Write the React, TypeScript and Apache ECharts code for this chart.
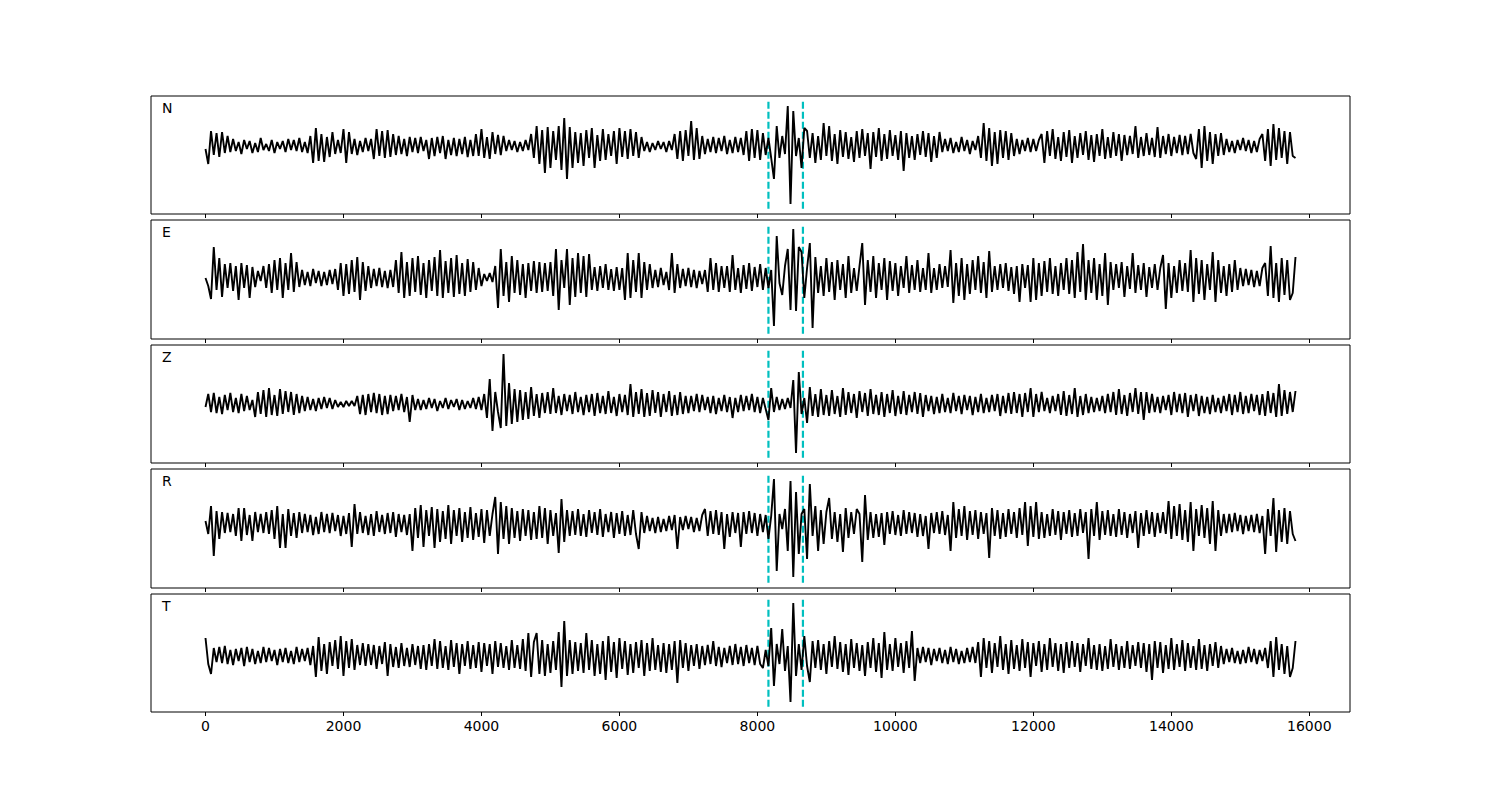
import { useEffect, useRef } from "react";
import * as echarts from "echarts";

const X_FIRST = 0;
const X_LAST = 15800;
const X_MIN = -790;
const X_MAX = 16590;
const X_TICKS = [0, 2000, 4000, 6000, 8000, 10000, 12000, 14000, 16000];
const PICKS = [8160, 8660];
const COMPONENTS = ["N", "E", "Z", "R", "T"];

const N_TRACE = [
  -3, -18, 15, -9, 13, -11, 14, -7, 10,
  -6, 7, -5, 4, -8, 6, -3, 5, -7, 3, -6, 8, -4, 2, -5, 6, -7, 4, -3, 5, -6, 7, -4, 6, -5, 8, -6, 4, -7,
  10, -17, 18, -15, 12, -16, 9, -11, 14, -8,
  6, -7,
  17, -17, 14,
  -8, 7, -9, 5, -6, 8, -5, 7,
  -13, 17, -10, 15, -12, 16, -11, 12, -9,
  10, -8, 7, -10, 9, -6, 8, -7, 9, -5, 6,
  -13, 8, -10, 9, -7, 10, -13, 6, -9, 8, -10, 7, -8, 9, -11, 6,
  -10, 12, -10, 17, -12, 9, -13, 14, -8, 11, -9, 10,
  -5, 6, -4, 5, -6, 4, -5, 6, -4,
  12, -12, 20, -18, 16, -27, 19, -22,
  15, -14, 20, -24, 28, -33, 19, -22, 14,
  -17, 13, -20, 16, -12, 18, -22, 11, -15, 17, -14, 12, -10, 15, -18,
  18, -11, 15, -13, 17, -10, 14, -12, 9,
  -5, 4, -6, 3, -4, 5, -3, 4, -6, 5, -4,
  12, -13, 15, -15, 16, -10, 25, -14, 18, -13,
  10, -8, 7, -6, 9, -7, 8, -5, 10, -8, 6, -7, 9, -6, 8, -9,
  15, -15, 17, -12, 16, -14, 13, -9,
  8, -12, -33, 20, -12, 10, -8, 40, -58, 35, -10, 8, -22, 18,
  15, -12, 13, -17, 10, -14, 23, -10, 20, -15, 12, -18, 16, -11, 14, -13, 9, -16, 15, -12, 17, -10, 13, -23, 14,
  -11, 18, -15, 12, -13, 16, -10, 11, -14, 15, -25, 13, -12, 10, -14, 12, -9, 15, -11, 13, -16, 10, -12, 14,
  -6, 7, -5, 8, -7, 4, -6, 9, -5, 6, -8, 5, -4,
  10, -12, 23, -15, 18, -20, 14, -18, 16, -12, 15, -14, 13, -10,
  7, -8, 6, -5, 8, -6, 7, -5, 6,
  12, -17, 15, -10, 17, -13, 9, -15, 14, -11, 16, -17, 10, -12, 13, -9, 15, -14, 11, -16, 12, -10, 17, -13, 9, -12, 14, -10, 12, -15, 11, -9,
  10, -8, 20, -12, 9, -10, 13, -9, 8, -11, 19, -12, 10, -8, 12, -10, 9, -7, 11, -9, 10, -8, 12, -7,
  -13, 17, -22, 20, -15, 14, -18, 12, -10, 13, -9,
  7, -6, 5, -7, 6, -4, 8, -5, 6, -7, 5, -6, 7,
  12, -15, 17, -20, 22, -14, 18, -12, 15, -18, 14, -10, -12,
];

const E_TRACE = [
  0, -8, -21, 31, -12, 20, -19, 14, -10,
  15, -13, 12, -22, 15, -10, 13, -20, 11, -9, 7,
  -3, 12, -10, 14, -15, 18, -12, 20, -20, 15, -12, 25, -14, 16, -9,
  8, -7, 6, -8, 9, -5, 7, -8, 6, -7, 8, -6, 9,
  -12, 15, -18, 14, -16, 18, -14, 21, -22, 16, -13, 12,
  -10, 9, -8, 10, -9, 7, -10, 8, -9,
  18, -15, 26, -20, 16, -18, 20, -14, 22, -17, 15, -20, 18, -13, 21, -18, 28, -20, 17, -15,
  20, -19, 23, -16, 15, -18, 19, -14, 16, -12, 10, -8,
  4, -3, 5, -4,
  12, -30, 29, -18, 16, -24, 22, -15, 18, -17, 14, -20, 15, -13, 17, -15, 16,
  -14, 15, -13, 16, -18, 29, -32, 18, -10, 29, -27, 20,
  -19, 25, -15, 22, -19, 24,
  -12, 11, -13, 12, -10, 14, -12, 9, -13, 11, -12, 10,
  -22, 25, -20, 18, -14, 25, -20, 16, -12, 14, -10,
  8, -9, 10, -7, 6,
  -12, 25, -15, 14,
  -10, 9, -8, 10, -9, 8, -10, 7, -6, 8,
  -14, 20, -12, 15, -14, 12, -10,
  12, -14, 23, -12, 10, -15, 13, -11, 15, -13, 11, -9, 14, -12, 10,
  -10, 8, -48, 42, -5, -17, 12, 29, -32, 49, -33, 31, 26, -20, 10, 35, -50,
  21, -15, 12, -18, 20, -14, 16, -22, 18, -12, 14, -20, 22, -15, 10, -13, 12,
  35, -27,
  18, -14, 22, -20, 15, -12, 20, -22, 17, -13, 15, -18, 12, -10, 22, -15, 13, -12, 18, -14, 10, -12, 25,
  -15, 10, -12, 14, -10, 12, -9,
  28, -25, 15, -18, 20, -22, 14, -16, 18, -12, 22, -15, 16, -20, 27, -14, 12,
  -12, 14, -10, 15, -13, 11, -16, 12, -24, 14, -10, 13,
  -24, 20, -22, 15, -18, 17, -14, 20, -16, 12, -18, 15, -12, 20,
  -16, 18, -20, 26, -14, 34, -22, 18, -15, 20, -22, 14, -18, 25, -27, 16,
  -12, 14, -10, 16, -19, 12, -11, 25, -15, 13, -12, 15, -19, 11, -10, 14, -12, 10,
  23, -31, 15, -20, 12, -15, 18, -13,
  15, -14, 28, -24, 20, -16, 18, -22, 14, -12, 26, -24, 18, -15, 12, -18, 14,
  -14, 18, -12, 10, -8, 9, -7, 8, -9, 7, -8, 10,
  15, -18, 32, -20, 15, -24, 20, -17, 18, -22, -15, 21,
];

const Z_TRACE = [
  -3, 10, -8, 11, -9, 7, -10, 9, -6, 11, -8, 6, -9, 10, -7, 8, -6,
  4, -13, 12, -10, 14, -13, 16, -11, 9, -12, 15, -10, 13, -8, 12, -11, 10, -9, 8, -7,
  7, -6, 5, -7, 6, -5, 7, -4, 6, -5, 4,
  -3, 2, -3, 3, -2, 3, -2,
  8, -10, 9, -11, 10, -8, 11, -9, 10, -11, 8, -10, 9, -7, 8,
  -6, 10, -8, 7, -18, 9, -6,
  5, -6, 4, -5, 6, -4, 5, -7, 3, -4, 6, -5, 4, -3, 5, -6, 4, -5, 3, -4, 6, -5, 7, -6,
  10, -14, 25, -27, 12, -8, -24, 50,
  -22, 21, -20, 15, -18, 14, -16, 12, -15, 17, -12, 10, -14, 11, -9, 12,
  -10, 16, -9, 8, -11, 10, -7, 9, -10, 12, -8, 7, -11, 9, -8, 10, -12, 11, -9, 8, -10, 13, -9, 7, -12, 10, -8, 9, -11,
  20, -13, 12, -10, 15, -13, 11, -12, 14, -9, 12, -13, 10, -8, 13, -12, 9, -11, 12, -10, 8,
  -9, 8, -7, 10, -8, 9, -6, 7, -9, 8, -10, 6, -7, 9, -8, 7, -14, 6, -8,
  9, -7, 8, -6, 10, -8, 7, -9, 6, -5,
  -16, 16, -8, 7, -6, 5, -5, 6, -4, 24, -49, 32, -10, 6,
  -19, 17, -12, 10, -13, 15, -11, 9, -12, 14, -10, 8, -13, 16, -11, 12, -9, 10, -14, 13, -8, 11, -12, 15, -10,
  9, -11, 12, -13, 10, -9, 14, -12, 8, -10, 13, -11, 9, -8, 12, -10, 11, -13, 9, -7,
  8, -10, 7, -9, 10, -8, 6, -9, 11, -7, 8, -10, 9, -6, 8, -11, 7, -8, 10, -9, 6, -8, 9, -7, 10, -12, 8, -9, 11, -10, 12, -9, 10, -13, 11, -8, 16,
  -13, 10, -8, 12, -7, 6, -9, 8, -7, 10, -11, 13, -12, 9, -10, 16, -13, 8, -11, 10, -9, 7, -8, 6, -7, 8, -9, 10, -8, 12, -11, 15, -10, 9, -12, 11, -8, 16, -10, 12, -16,
  12, -9, 10, -8, 7, -9, 8, -6, 9, -11, 12, -8, 10, -9, 11, -13, 9, -7, 10, -12, 8, -9, 7, -10, 9, -8, 6, -9, 8, -7, 10, -11, 9, -8, 12, -10, 8, -9, 10, -7, 9, -11,
  10, -12, 13, -9, 11, -13, 20, -12, 14, -10, 12, -8, 13,
];

const R_TRACE = [
  3, -10, 18, -32, 13, -15, 12, -9, 11,
  -8, 10, -12, 16, -17, 16, -11, 9, -17, 12, -8, 10, -9,
  12, -10, 14, -15, 18, -24, 10, -24, 15, -12, 11, -14, 12, -9, 10,
  -8, 9, -11, 7, -10, 12, -8, 10, -9, 11, -7, 9, -12, 8, -10, 11, -23, 20,
  -10, 12, -9, 8, -11, 10, -12, 13, -8, 9, -10, 11, -9, 12, -13, 10, -8, 9, -11, 10,
  -27, 16, -14, 19, -23, 14, -12, 17, -24, 15, -18, 13, -15, 19, -20, 14, -12, 16, -18, 12, -14, 17, -16, 11, -13, 15, -19, 14, -12, 10,
  27, -30, 22, -15, 18, -20, 16, -14, 13, -17, 15, -12, 14, -16,
  12, -15, 18, -14, 16, -20, 14, -12, 11, -29, 25, -18, 14, -12,
  13, -11, 15, -12, 10, -13, 14, -9, 12, -11, 15, -13, 10, -8, 12, -14, 11, -10, 13, -12, 9, -11, 14, -10, -25, 12, -9,
  8, -7, 6, -9, 7, -8, 5, -7, 8, -6, 9, -25, 7, -6, 8, -5, 7, -8, 6, -7, 9,
  15, -12, 13, -10, 14, -11, 12, -25, 10, -13, 12, -9, 11,
  -23, 12, -10, 13, -9, 11, -12, 10, -8, 9,
  -15, 8, 45, -47, 10, -5, 15, -27, 43, -53, 32, -30, 10, 15, -35, 40, -12, 18, -27,
  14, -20, 12, 26, -15, 12, -18, 10, -28, 16, -14, 12, -10, 15, 10, -38, 29, -16, 12, -14, 10,
  -13, 11, -21, 12, -10, 13, -11, 9, -12, 14, -10, 12, -9, 11, -13, 10, -12, 8, -25, 11, -9, 12, -10, 13, -11, 9,
  -27, 22, -14, 15, -12, 18, -16, 13, -11, 14, -15, 12, -10, 11, -34,
  16, -12, 14, -15, 11, -13, 15, -10, 12, -14, 16, -11, 22, -22, 18, -13, 22, -15, 12, -14, 10, -12, 15, -11, 13, -16, 12, -10, 14, -13, 11, -12, 15, -9, 12, -35,
  15, -12, 22, -16, 13, -11, 14, -12, 10, -13, 15, -11, 12, -14, 10, -9, 13, -24, 11, -12, 14, -10, 12, -13, 11, -9, 12, -10,
  23, -15, 18, -12, 20, -16, 14, -18, 22, -27, 15, -12, 19, -14, 16, -20, 23, -27, 14, -12, 10,
  -9, 10, -8, 11, -7, 9, -10, 8, -7, 9, -8, 10, -9, 8, -30,
  15, -12, 26, -28, 14, -18, 16, -20, 13, -10, -17,
];

const T_TRACE = [
  18, -8, -18,
  8, -6, 9, -7, 10, -8, 6, -9, 7, -5, 8, -10, 9, -6, 7, -8, 5, -7, 9, -6, 8, -5, 6, -9, 7, -6, 8, -7, 5, -8, 9, -6, 7, -5, 8, -9,
  10, -21, 19, -15, 12, -18, 14, -10, 16, -13, 20, -20, 15, -12, 17, -14, 11, -9, 13,
  -10, 12, -9, 11, -13, 10, -8, 14, -20, 12, -11, 9, -12, 13, -10, 8, -11, 12, -9, 10, -13, 11,
  -14, 12, -10, 17, -13, 15, -12, 10, -14, 16, -11, 13, -18, 12, -10, 15, -13, 11, -12, 14, -16, 13, -10, 12, -18, 15, -11, 13, -12, 10, -14, 16, -12, 11, -13, 17,
  -15, 23, -21, 14, 23, -18, 16, -20, 12, -17, 15, -14, 24, -31, 35, -20, 16, -18, 14,
  -15, 13, -17, 23, -14, 16, -20, 12, -18, 15, -24, 20, -16, 14, -22, 18, -13, 15, -19, 12, -17, 14, -12, 16, -20,
  13, -15, 18, -14, 11, -16, 13, -17, 12, -14, 15, -27, 16, -12, 13, -15, 11, -10, 12, -13,
  10, -9, 11, -8, 15, -10, 9, -11, 8, -7, 10, -9, 12, -8, 9, -10, 11, -7, 8, -9, 10, -8, -12,
  6, -10, 28, -30, 12, -8, 27, -15, 10, -46, 53, -20, 12, -14, 20, -10, -26, 15, -12,
  16, -14, 12, -18, 15, -11, 20, -13, 14, -16, 12, -19, 17, -12, 13, -15, 11, -20, 14, -12, 18, -16, 13, -22, 24, -14, 12, -15, 18, -11, 13, -17, 15, -12, 25, -25,
  8, -7, 9, -6, 8, -9, 7, -5, 8, -7, 6, -8, 9, -6, 7, -8, 5, -7, 8, -6, 9, -7,
  14, -21, 18, -12, 15, -17, 13, -11, 20, -14, 12, -18, 16, -13, 11, -15, 17, -12, 14, -21, 13, -10, 15, -16, 12, -14, 18, -11, 13, -15, 12, -17, 14,
  -12, 15, -11, 13, -16, 12, -10, 18, -13, 11, -14, 12, -15, 10, -13, 17, -11, 12, -14, 10, -12, 15, -13, 11, -10, 14, -12, 13,
  -16, 12, -24, 15, -12, 14, -17, 11, -13, 18, -14, 12, -11, 16, -15, 13, -12, 10, -14, 17, -13, 11, -15, 12, -10, 14, -12, 10,
  -8, 7, -6, 8, -7, 5, -8, 6, -7, 9, -6, 7, -8, 6, -5, 8,
  -12, 15, -21, 19, -14, 12, -18, 10, -21, -12, 15,
];

const TRACES = [N_TRACE, E_TRACE, Z_TRACE, R_TRACE, T_TRACE];
const Y_LOW = [-68, -61, -59, -64, -56];
const Y_HIGH = [50, 58, 59, 55, 62];

const GRID_TOPS = [96, 220, 345, 469, 594];
const GRID_HEIGHTS = [118, 119, 118, 119, 118];
const GRID_LEFT = 151;
const GRID_WIDTH = 1199;

function toPairs(vals: number[]): number[][] {
  const step = (X_LAST - X_FIRST) / (vals.length - 1);
  return vals.map((v, i) => [X_FIRST + i * step, v]);
}

export default function App() {
  const ref = useRef<HTMLDivElement>(null);
  useEffect(() => {
    document.body.style.margin = "0";
    const chart = echarts.init(ref.current!, null, { renderer: "svg" });
    const grids: any[] = [];
    const xAxes: any[] = [];
    const yAxes: any[] = [];
    const series: any[] = [];
    const graphics: any[] = [];
    COMPONENTS.forEach((name, i) => {
      grids.push({
        left: GRID_LEFT,
        top: GRID_TOPS[i],
        width: GRID_WIDTH,
        height: GRID_HEIGHTS[i],
        show: true,
        borderColor: "#000",
        borderWidth: 1,
        backgroundColor: "transparent",
      });
      xAxes.push({
        type: "value",
        gridIndex: i,
        min: X_MIN,
        max: X_MAX,
        position: "bottom",
        axisLine: { show: false, onZero: false },
        axisTick: {
          show: true,
          customValues: X_TICKS,
          length: 4,
          lineStyle: { color: "#000", width: 1 },
        },
        axisLabel: {
          show: i === COMPONENTS.length - 1,
          customValues: X_TICKS,
          formatter: (v: number) => String(v),
          color: "#000",
          fontSize: 14,
          fontFamily: "DejaVu Sans",
          margin: 7,
        },
        splitLine: { show: false },
      });
      yAxes.push({
        type: "value",
        gridIndex: i,
        min: Y_LOW[i],
        max: Y_HIGH[i],
        show: false,
        splitLine: { show: false },
      });
      const range = Y_HIGH[i] - Y_LOW[i];
      const lo = Y_LOW[i] + 0.045 * range;
      const hi = Y_HIGH[i] - 0.045 * range;
      PICKS.forEach((p) => {
        series.push({
          type: "line",
          xAxisIndex: i,
          yAxisIndex: i,
          data: [
            [p, lo],
            [p, hi],
          ],
          symbol: "none",
          silent: true,
          lineStyle: { color: "#00BFBF", width: 2.2, type: [7, 3] },
          z: 2,
        });
      });
      series.push({
        type: "line",
        xAxisIndex: i,
        yAxisIndex: i,
        data: toPairs(TRACES[i]),
        symbol: "none",
        showSymbol: false,
        silent: true,
        lineStyle: { color: "#000", width: 1.9 },
        z: 3,
      });
      graphics.push({
        type: "text",
        left: 162,
        top: GRID_TOPS[i] + 5,
        style: {
          text: name,
          fill: "#000",
          fontSize: 14,
          fontFamily: "DejaVu Sans",
        },
      });
    });
    chart.setOption({
      animation: false,
      backgroundColor: "#fff",
      grid: grids,
      xAxis: xAxes,
      yAxis: yAxes,
      series,
      graphic: graphics,
    });
    return () => chart.dispose();
  }, []);
  return (
    <div
      ref={ref}
      style={{ width: 1500, height: 800, position: "absolute", left: 0, top: 0 }}
    />
  );
}
